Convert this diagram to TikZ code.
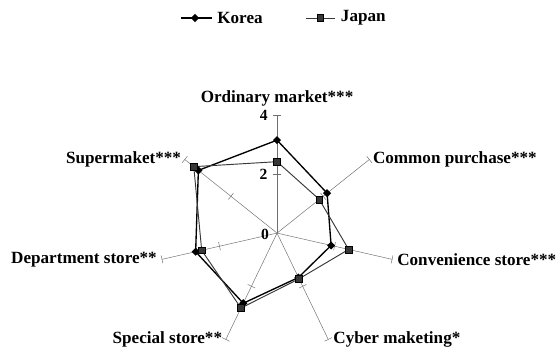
\documentclass[tikz,border=0pt]{standalone}
\usepackage{fontspec}
\setmainfont{Liberation Serif}
\usepackage{tikz}
\usetikzlibrary{positioning}
\usetikzlibrary{shapes.geometric}
\usepackage{xcolor}
\definecolor{ColAxis}{RGB}{110,110,110}
\definecolor{ColJapan}{RGB}{55,55,55}
\tikzstyle{AxisLine}=[ColAxis,line width=0.45pt]
\tikzstyle{AxisLabel}=[font=\bfseries\fontsize{16.5}{18}\selectfont,inner sep=2pt]
\tikzstyle{ScaleLabel}=[font=\bfseries\fontsize{15}{16}\selectfont,inner sep=0pt]
\tikzstyle{LineKorea}=[black,line width=1.3pt,line join=round]
\tikzstyle{LineJapan}=[ColJapan,line width=0.9pt,line join=round]
\tikzstyle{MarkKorea}=[diamond,fill=black,inner sep=0pt,minimum size=2.8mm]
\tikzstyle{MarkJapan}=[rectangle,draw=black,fill=ColJapan,inner sep=0pt,minimum size=2.3mm]

\begin{document}
\begin{tikzpicture}
        \useasboundingbox (-9.39,-4.17) rectangle (9.59,7.90);
        \coordinate (O) at (0,0);
        % axes with ticks at 2 and 4
        \foreach \i/\ang in {1/90,2/38.57,3/-12.86,4/-64.29,5/-115.71,6/-167.14,7/141.43}{
            \coordinate (A\i) at (\ang:4);
            \draw[AxisLine] (O) -- (A\i);
            \foreach \r in {2,4}
                \draw[AxisLine] ([shift={(\ang:\r)}]\ang+90:0.14) -- ([shift={(\ang:\r)}]\ang-90:0.14);
        }
        % data
        \foreach \i/\ang/\k/\j in {1/90/3.15/2.42,2/38.57/2.17/1.83,3/-12.86/1.88/2.49,4/-64.29/1.67/1.72,5/-115.71/2.64/2.82,6/-167.14/2.83/2.62,7/141.43/3.41/3.61}{
            \coordinate (K\i) at (\ang:\k);
            \coordinate (J\i) at (\ang:\j);
        }
        \draw[LineKorea](K1)--(K2)--(K3)--(K4)--(K5)--(K6)--(K7)--cycle;
        \draw[LineJapan](J1)--(J2)--(J3)--(J4)--(J5)--(J6)--(J7)--cycle;
        \foreach \i in {1,...,7} \node[MarkKorea](k\i)at(K\i){};
        \foreach \i in {1,...,7} \node[MarkJapan](j\i)at(J\i){};
        % axis labels
        \node[AxisLabel,above=0.22 of A1](LabOrd){Ordinary market***};
        \node[AxisLabel,right=0.05 of A2](LabCom){Common purchase***};
        \node[AxisLabel,right=0.1 of A3](LabCon){Convenience store***};
        \node[AxisLabel,right=0.1 of A4](LabCyb){Cyber maketing*};
        \node[AxisLabel,left=0.05 of A5](LabSpe){Special store**};
        \node[AxisLabel,left=0.1 of A6](LabDep){Department store**};
        \node[AxisLabel,left=0.05 of A7](LabSup){Supermaket***};
        \node[ScaleLabel](S4)at(-0.45,4){4};
        \node[ScaleLabel](S2)at(-0.46,2){2};
        \node[ScaleLabel](S0)at(-0.41,-0.04){0};
        % legend
        \coordinate (KorA) at (-3.25,7.29);
        \coordinate (KorB) at (-2.2,7.29);
        \coordinate (JapA) at (0.98,7.29);
        \coordinate (JapB) at (1.97,7.29);
        \draw[LineKorea](KorA)--(KorB);
        \draw[LineJapan](JapA)--(JapB);
        \node[MarkKorea](KorM)at(-2.78,7.29){};
        \node[MarkJapan](JapM)at(1.46,7.29){};
        \node[AxisLabel,right=0.1 of KorB](KorT){Korea};
        \node[AxisLabel,right=0.12 of JapB](JapT){Japan};
\end{tikzpicture}
\end{document}
